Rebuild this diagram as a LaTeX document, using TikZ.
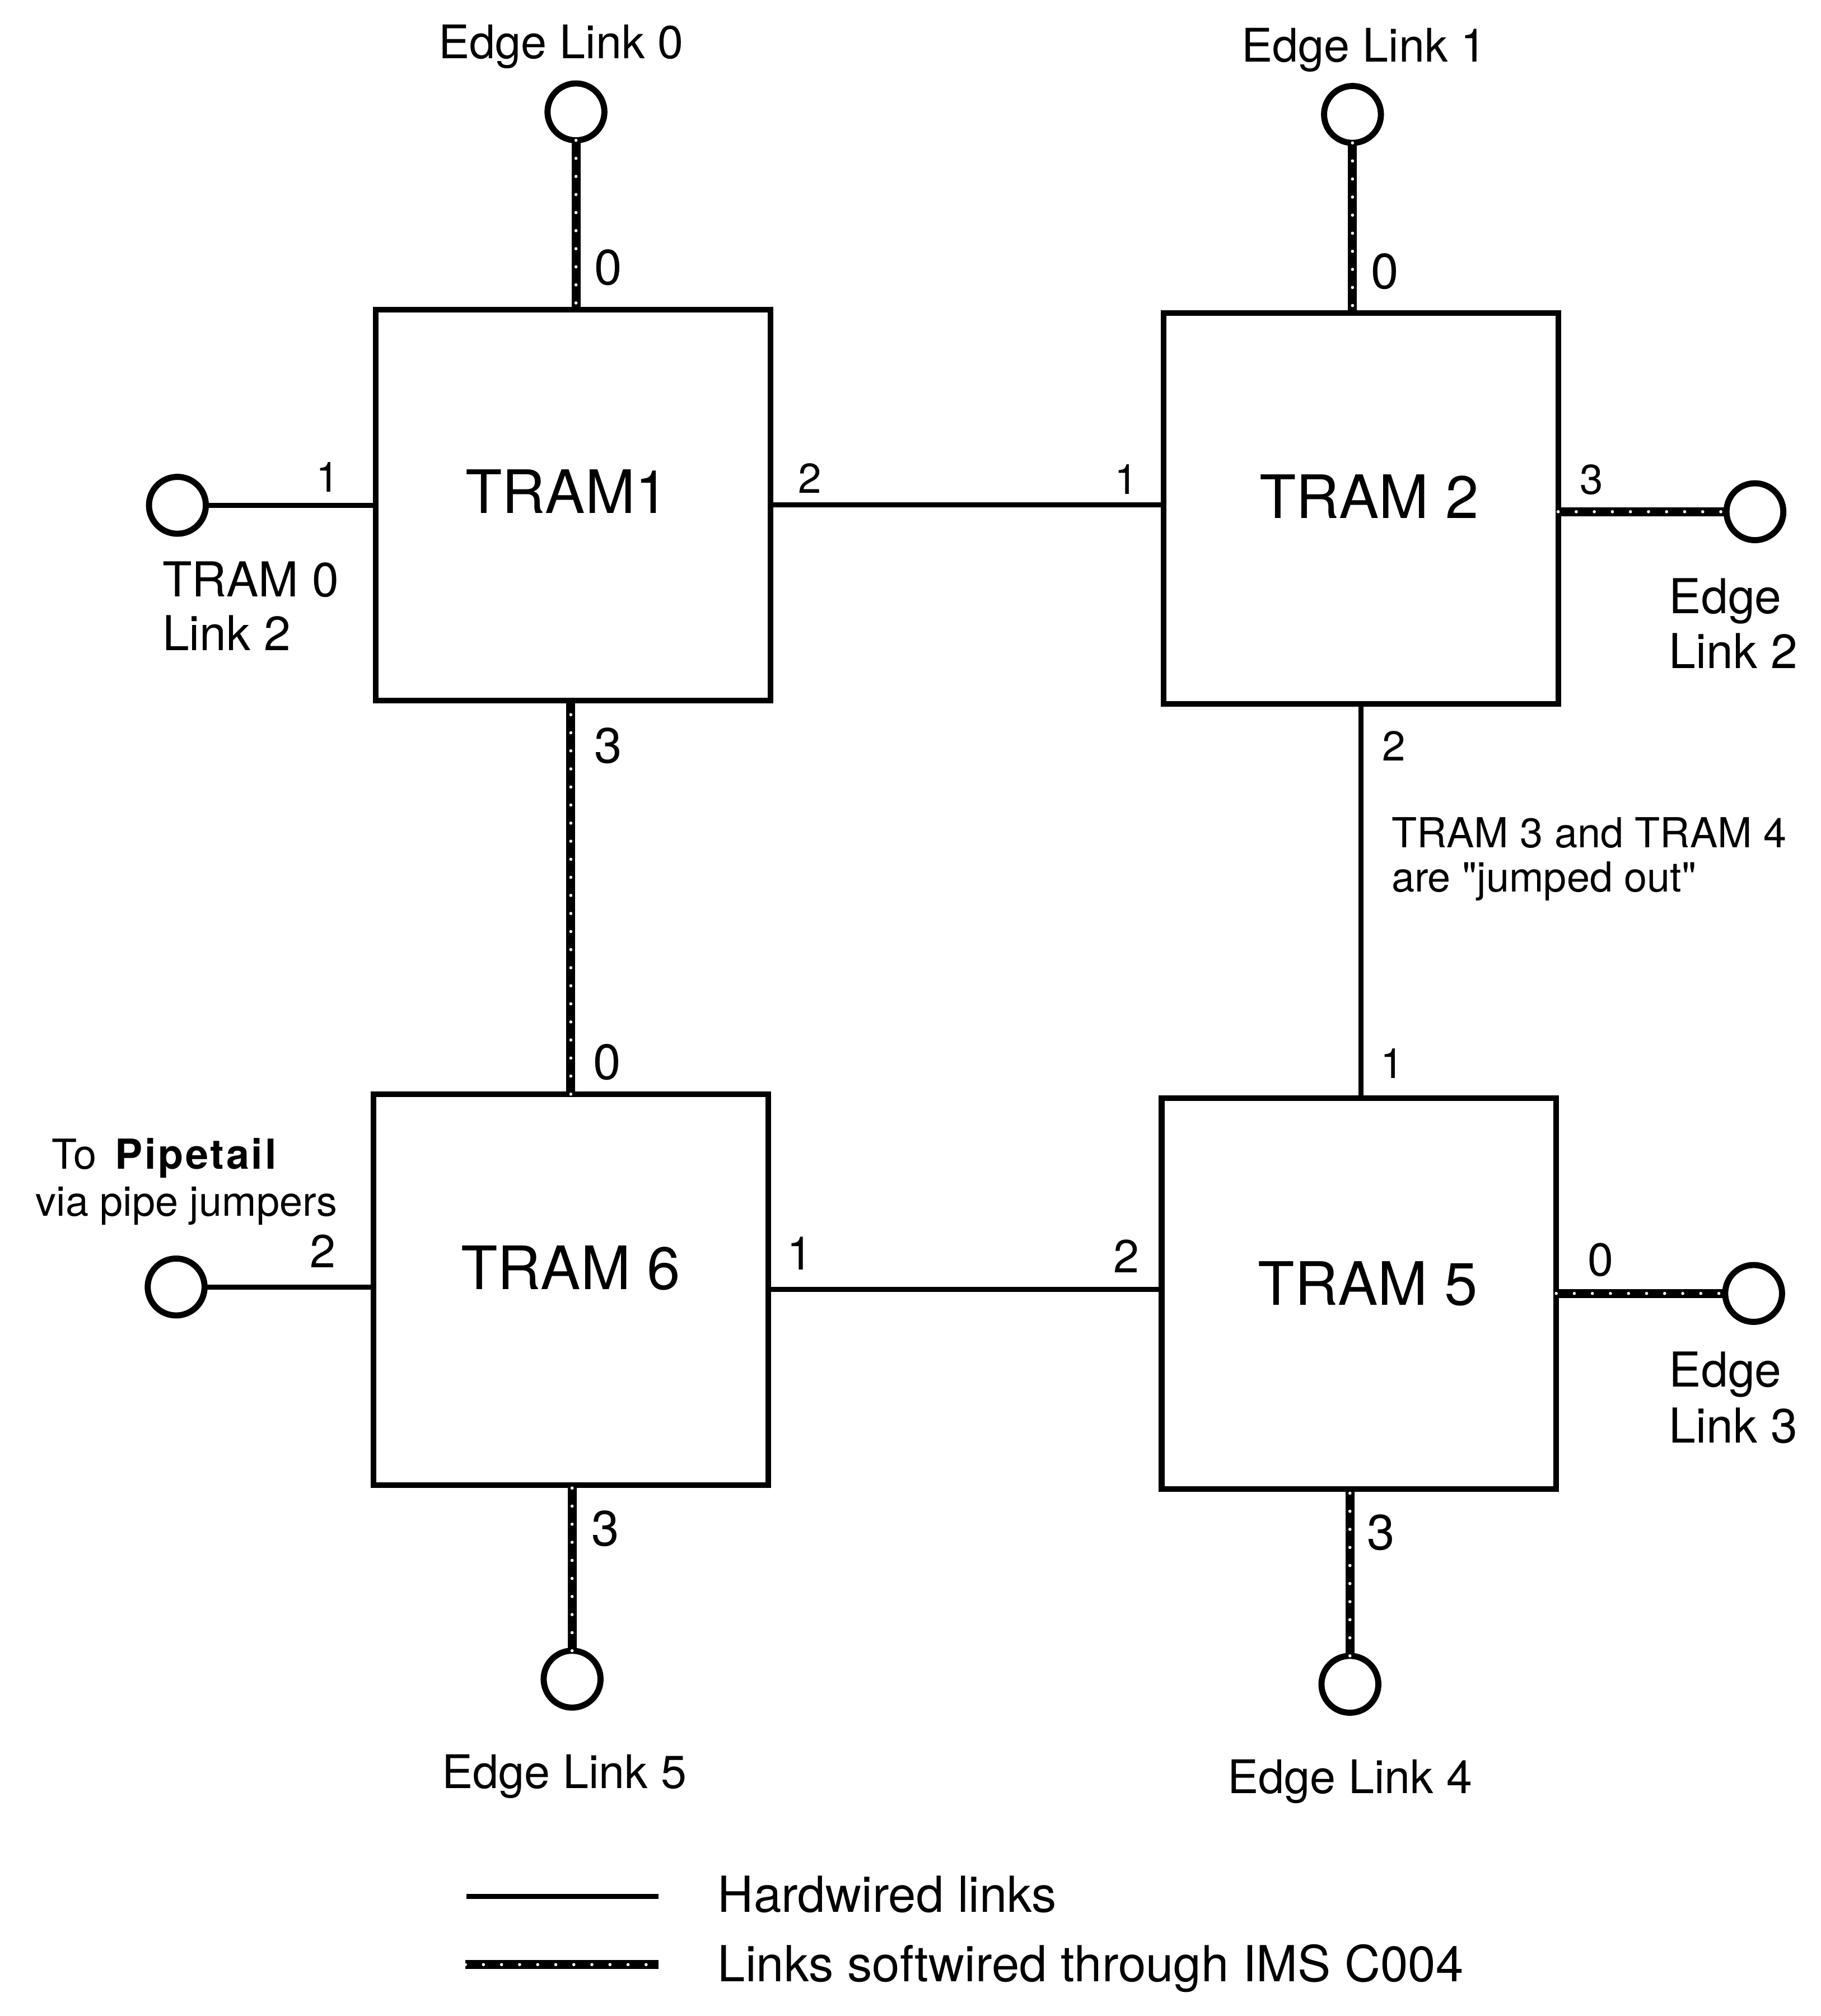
\documentclass[tikz,border=0pt]{standalone}
\usepackage{fontspec}
\setmainfont{TeX Gyre Heros}
\usetikzlibrary{calc}
\begin{document}
\begin{tikzpicture}[x=0.02cm, y=-0.02cm,
  tram/.style={draw, line width=2.5pt, minimum width=6.14cm, minimum height=6.08cm, inner sep=0pt, outer sep=0pt},
  term/.style={draw, circle, line width=2.7pt, minimum size=0.885cm, inner sep=0pt, outer sep=0pt, fill=white},
  hard/.style={line width=2.3pt},
  soft/.style={line width=4pt, postaction={draw=white, line width=1.4pt, dash pattern=on 0pt off 8pt, line cap=round}},
  tramtxt/.style={font=\fontsize{26.5}{30}\selectfont, inner sep=0pt, anchor=base},
  edgetxt/.style={font=\fontsize{20.5}{24}\selectfont, inner sep=0pt},
  sidetxt/.style={font=\fontsize{21.3}{25}\selectfont, inner sep=0pt, anchor=base west},
  notetxt/.style={font=\fontsize{18.3}{22}\selectfont, inner sep=0pt},
  legtxt/.style={font=\fontsize{22}{26}\selectfont, inner sep=0pt, anchor=base west},
  pbig/.style={font=\fontsize{22}{26}\selectfont, inner sep=0pt},
  pmid/.style={font=\fontsize{20.5}{24}\selectfont, inner sep=0pt},
  psmall/.style={font=\fontsize{18.5}{22}\selectfont, inner sep=0pt}
]
\fill[white] (0,0) rectangle (1416,1568);
\useasboundingbox (0,0) rectangle (1416,1568);

% TRAM boxes
\node[tram] (t1) at (445.75,392.75) {};
\node[tram] (t2) at (1058.5,395.5) {};
\node[tram] (t6) at (444,1003) {};
\node[tram] (t5) at (1057,1006) {};

\node[tramtxt] (t1l) at (441,399) {TRAM1};
\node[tramtxt] (t2l) at (1065,403) {TRAM 2};
\node[tramtxt] (t6l) at (444,1003) {TRAM 6};
\node[tramtxt] (t5l) at (1064,1015) {TRAM 5};

% terminals
\node[term] (e0) at (448,87) {};
\node[term] (e1) at (1052,89) {};
\node[term] (tl) at (138,393) {};
\node[term] (e2) at (1365,398) {};
\node[term] (pc) at (137,1001) {};
\node[term] (e3) at (1364,1006) {};
\node[term] (e5) at (445,1306) {};
\node[term] (e4) at (1050,1310) {};

% connectors
\draw[soft] (e0.south) -- (e0.south |- t1.north);
\draw[soft] (e1.south) -- (e1.south |- t2.north);
\draw[hard] (tl.east) -- (tl.east -| t1.west);
\draw[hard] (t1.east) -- (t1.east -| t2.west);
\draw[soft] (t2.east |- e2.west) -- (e2.west);
\draw[soft] (t6.north) -- (t6.north |- t1.south);
\draw[hard] (t2.south) -- (t2.south |- t5.north);
\draw[hard] (pc.east) -- (pc.east -| t6.west);
\draw[hard] (t6.east) -- (t6.east -| t5.west);
\draw[soft] (t5.east |- e3.west) -- (e3.west);
\draw[soft] (e5.north) -- (e5.north |- t6.south);
\draw[soft] (e4.north) -- (e4.north |- t5.south);

% port numbers
\node[pbig] (p1a) at (473,208) {0};
\node[pbig] (p2a) at (1077,211) {0};
\node[psmall] (p1b) at (255,371) {1};
\node[psmall] (p1c) at (630,372) {2};
\node[psmall] (p2b) at (876,373) {1};
\node[psmall] (p2c) at (1238,373) {3};
\node[pbig] (p1d) at (473,580) {3};
\node[pbig] (p6a) at (472,826) {0};
\node[psmall] (p2d) at (1084,580) {2};
\node[psmall] (p5a) at (1083,827) {1};
\node[pmid] (p6b) at (251,973) {2};
\node[pmid] (p6c) at (622,975) {1};
\node[pmid] (p5b) at (876,977) {2};
\node[pmid] (p5c) at (1245,980) {0};
\node[pbig] (p6d) at (471,1189) {3};
\node[pbig] (p5d) at (1074,1192) {3};

% edge texts
\node[edgetxt, anchor=base] (x0) at (436.5,45.7) {Edge Link 0};
\node[edgetxt, anchor=base] (x1) at (1061,48) {Edge Link 1};
\node[edgetxt, anchor=base] (x5) at (439,1391) {Edge Link 5};
\node[edgetxt, anchor=base] (x4) at (1050,1395) {Edge Link 4};

\node[sidetxt] (tla) at (126,464) {TRAM 0};
\node[sidetxt] (tlb) at (126,506) {Link 2};
\node[sidetxt] (x2a) at (1298,477) {Edge};
\node[sidetxt] (x2b) at (1298,520) {Link 2};
\node[sidetxt] (x3a) at (1298,1078.5) {Edge};
\node[sidetxt] (x3b) at (1298,1122) {Link 3};

\node[notetxt, anchor=base west] (na) at (1082,659) {TRAM 3 and TRAM 4};
\node[notetxt, anchor=base west] (nb) at (1082,693.5) {are \textquotedbl jumped out\textquotedbl};

\node[notetxt, anchor=base west] (pa) at (40,909) {To\hspace{0.45em}{\bfseries\addfontfeatures{LetterSpace=5}Pipetail}};
\node[notetxt, anchor=base] (pb) at (145,946) {via pipe jumpers};

% legend
\coordinate (la) at (363,1475);
\coordinate (lb) at (512,1475);
\coordinate (lc) at (362,1528);
\coordinate (ld) at (512,1528);
\draw[hard] (la) -- (lb);
\draw[soft] (lc) -- (ld);
\node[legtxt] (lt1) at (558,1487) {Hardwired links};
\node[legtxt] (lt2) at (558,1541) {Links softwired through IMS C004};
\end{tikzpicture}
\end{document}
